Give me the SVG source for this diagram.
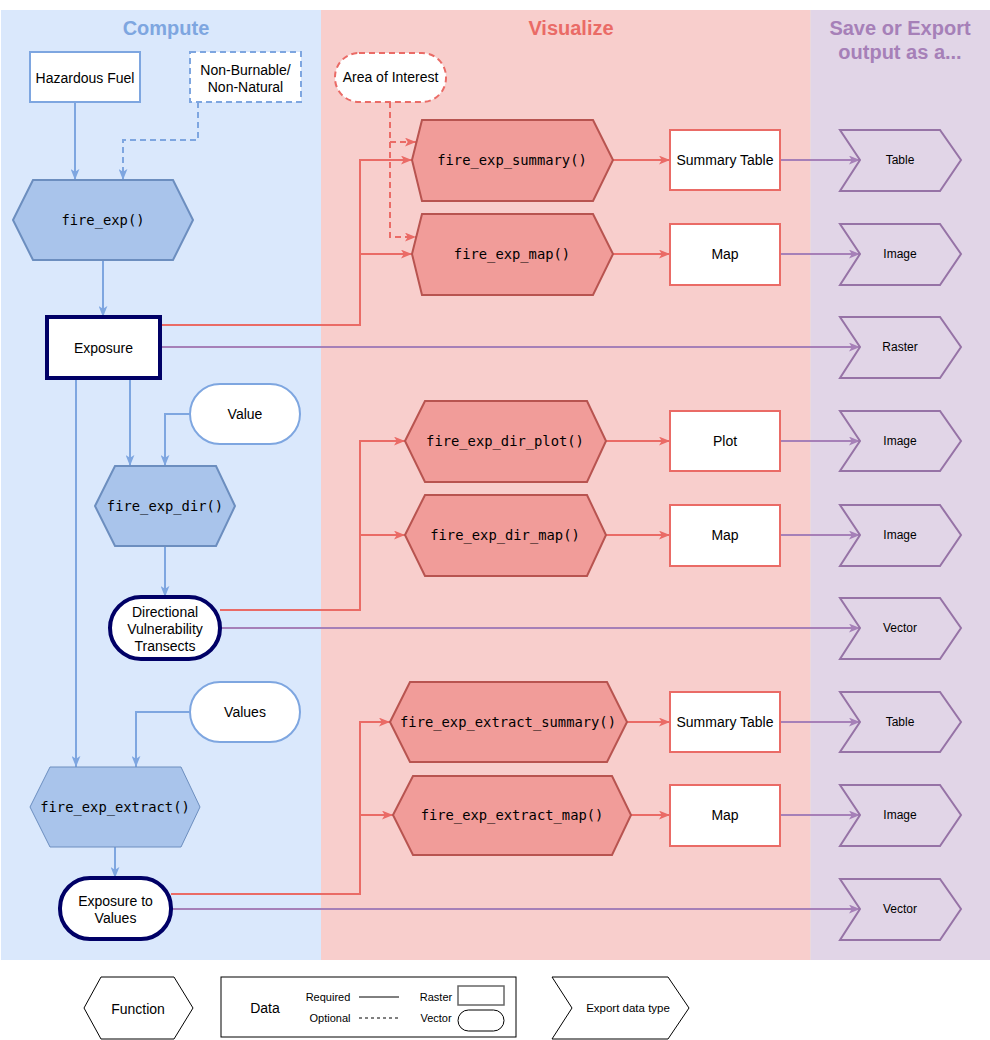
<svg xmlns="http://www.w3.org/2000/svg" width="990" height="1040" viewBox="0 0 990 1040">
<style>
.t{font-family:"Liberation Sans",Arial,sans-serif;font-size:14px;fill:#000;text-anchor:middle;dominant-baseline:central}
.ts{font-family:"Liberation Sans",Arial,sans-serif;font-size:12px;fill:#000;text-anchor:middle;dominant-baseline:central}
.tl{font-family:"Liberation Sans",Arial,sans-serif;font-size:11px;fill:#000;text-anchor:middle;dominant-baseline:central}
.m{font-family:"DejaVu Sans Mono","Liberation Mono",monospace;font-size:13.8px;fill:#000;text-anchor:middle;dominant-baseline:central}
.h{font-family:"Liberation Sans",Arial,sans-serif;font-size:20px;font-weight:bold;text-anchor:middle}
.bf{fill:#a9c4eb;stroke:#6c8ebf;stroke-width:2}
.rf{fill:#f19c99;stroke:#b85450;stroke-width:2}
.bd{fill:#fff;stroke:#7ea6e0;stroke-width:2}
.rd{fill:#fff;stroke:#ea6b66;stroke-width:2}
.nv{fill:#fff;stroke:#000066;stroke-width:4}
.pc{fill:#e1d5e7;stroke:#9673a6;stroke-width:2}
.lg{fill:#fff;stroke:#000;stroke-width:1}
.cb{fill:none;stroke:#7ea6e0;stroke-width:2;marker-end:url(#ab)}
.cr{fill:none;stroke:#ea6b66;stroke-width:2;marker-end:url(#ar)}
.cp{fill:none;stroke:#a680b8;stroke-width:2;marker-end:url(#ap)}
.dash{stroke-dasharray:6 4}
</style>
<defs>
<marker id="ab" viewBox="0 0 10 8" refX="10" refY="4" markerWidth="11" markerHeight="9" markerUnits="userSpaceOnUse" orient="auto"><path d="M0,0 L10,4 L0,8 L2.5,4 z" fill="#7ea6e0"/></marker>
<marker id="ar" viewBox="0 0 10 8" refX="10" refY="4" markerWidth="11" markerHeight="9" markerUnits="userSpaceOnUse" orient="auto"><path d="M0,0 L10,4 L0,8 L2.5,4 z" fill="#ea6b66"/></marker>
<marker id="ap" viewBox="0 0 10 8" refX="10" refY="4" markerWidth="11" markerHeight="9" markerUnits="userSpaceOnUse" orient="auto"><path d="M0,0 L10,4 L0,8 L2.5,4 z" fill="#a680b8"/></marker>
</defs>
<rect width="990" height="1040" fill="#fff"/>
<g id="panels">
<rect x="1" y="10" width="320" height="950" fill="#dae8fc"/>
<rect x="321" y="10" width="489" height="950" fill="#f8cecc"/>
<rect x="810" y="10" width="180" height="950" fill="#e1d5e7"/>
<line x1="810.5" y1="10" x2="810.5" y2="960" stroke="#ead9dd" stroke-width="1"/>
<text class="h" x="166" y="35" fill="#7ea6e0">Compute</text>
<text class="h" x="571" y="35" fill="#ea6b66">Visualize</text>
<text class="h" x="900" y="35" fill="#a680b8">Save or Export</text>
<text class="h" x="900" y="59" fill="#a680b8">output as a...</text>
</g>
<g id="connectors">
<path class="cb" d="M75,102 V180"/>
<path class="cb dash" d="M198,102 V140 H123 V180"/>
<path class="cb" d="M103,260 V317"/>
<path class="cb" d="M130,378 V466"/>
<path class="cb" d="M190,414 H165 V466"/>
<path class="cb" d="M165,546 V597"/>
<path class="cb" d="M76,378 V767"/>
<path class="cb" d="M190,712 H136 V767"/>
<path class="cb" d="M115,847 V878"/>
<path class="cr" d="M160,325 H360 V160 H412"/>
<path class="cr" d="M160,325 H360 V254 H412"/>
<path class="cr dash" d="M390,102 V142 H416"/>
<path class="cr dash" d="M390,102 V237 H416"/>
<path class="cr" d="M613,160 H670"/>
<path class="cr" d="M613,254 H670"/>
<path class="cr" d="M220,610 H360 V441 H405"/>
<path class="cr" d="M220,610 H360 V535 H405"/>
<path class="cr" d="M606,441 H670"/>
<path class="cr" d="M606,535 H670"/>
<path class="cr" d="M171,894 H360 V722 H390"/>
<path class="cr" d="M171,894 H360 V815 H393"/>
<path class="cr" d="M627,722 H670"/>
<path class="cr" d="M631,815 H670"/>
<path class="cp" d="M780,160 H860"/>
<path class="cp" d="M780,254 H860"/>
<path class="cp" d="M160,347 H860"/>
<path class="cp" d="M780,441 H860"/>
<path class="cp" d="M780,535 H860"/>
<path class="cp" d="M220,628 H860"/>
<path class="cp" d="M780,722 H860"/>
<path class="cp" d="M780,815 H860"/>
<path class="cp" d="M171,909 H860"/>
</g>
<g id="hazardous-fuel"><rect class="bd" x="30" y="52" width="110" height="50"/><text class="t" x="85" y="78">Hazardous Fuel</text></g>
<g id="non-burnable"><rect class="bd dash" x="190" y="52" width="111" height="50"/><text class="t" x="245.5" y="70">Non-Burnable/</text><text class="t" x="245.5" y="87">Non-Natural</text></g>
<g id="fire-exp"><polygon class="bf" points="13,220 33,180 173,180 193,220 173,260 33,260"/><text class="m" x="103" y="220">fire_exp()</text></g>
<g id="exposure"><rect class="nv" x="47" y="317" width="113" height="61"/><text class="t" x="103.5" y="348">Exposure</text></g>
<g id="value"><rect class="bd" x="190" y="384" width="110" height="60" rx="30"/><text class="t" x="245" y="414">Value</text></g>
<g id="fire-exp-dir"><polygon class="bf" points="95,506 115,466 216,466 235,506 216,546 115,546"/><text class="m" x="165" y="506">fire_exp_dir()</text></g>
<g id="directional"><rect class="nv" x="110" y="597" width="110" height="62" rx="31"/><text class="t" x="165" y="612">Directional</text><text class="t" x="165" y="629">Vulnerability</text><text class="t" x="165" y="646">Transects</text></g>
<g id="values"><rect class="bd" x="190" y="682" width="110" height="60" rx="30"/><text class="t" x="245" y="712">Values</text></g>
<g id="fire-exp-extract"><polygon class="bf" style="stroke-width:1" points="30,807 50,767 181,767 200,807 181,847 50,847"/><text class="m" x="115" y="807">fire_exp_extract()</text></g>
<g id="exposure-to-values"><rect class="nv" x="60" y="878" width="111" height="61" rx="30"/><text class="t" x="115.5" y="901">Exposure to</text><text class="t" x="115.5" y="918">Values</text></g>
<g id="area-of-interest"><rect class="rd dash" x="335" y="53" width="111" height="49" rx="24"/><text class="t" x="390.5" y="77">Area of Interest</text></g>
<g id="fire-exp-summary"><polygon class="rf" points="412,160 422,120 593,120 613,160 593,201 422,201"/><text class="m" x="512" y="160">fire_exp_summary()</text></g>
<g id="fire-exp-map"><polygon class="rf" points="412,254 422,214 593,214 613,254 593,295 422,295"/><text class="m" x="512" y="254">fire_exp_map()</text></g>
<g id="fire-exp-dir-plot"><polygon class="rf" points="405,441 425,401 587,401 606,441 587,482 425,482"/><text class="m" x="505" y="441">fire_exp_dir_plot()</text></g>
<g id="fire-exp-dir-map"><polygon class="rf" points="405,535 425,495 587,495 606,535 587,576 425,576"/><text class="m" x="505" y="535">fire_exp_dir_map()</text></g>
<g id="fire-exp-extract-summary"><polygon class="rf" points="390,722 410,682 607,682 627,722 607,762 410,762"/><text class="m" x="508" y="722">fire_exp_extract_summary()</text></g>
<g id="fire-exp-extract-map"><polygon class="rf" points="393,815 413,776 612,776 631,815 612,855 413,855"/><text class="m" x="512" y="815">fire_exp_extract_map()</text></g>
<g id="summary-table-1"><rect class="rd" x="670" y="130" width="110" height="60"/><text class="t" x="725" y="160">Summary Table</text></g>
<g id="map-1"><rect class="rd" x="670" y="224" width="110" height="61"/><text class="t" x="725" y="254">Map</text></g>
<g id="plot"><rect class="rd" x="670" y="411" width="110" height="60"/><text class="t" x="725" y="441">Plot</text></g>
<g id="map-2"><rect class="rd" x="670" y="505" width="110" height="61"/><text class="t" x="725" y="535">Map</text></g>
<g id="summary-table-2"><rect class="rd" x="670" y="692" width="110" height="60"/><text class="t" x="725" y="722">Summary Table</text></g>
<g id="map-3"><rect class="rd" x="670" y="785" width="110" height="61"/><text class="t" x="725" y="815">Map</text></g>
<g id="export-table-1"><polygon class="pc" points="840,130 940,130 961,160 940,191 840,191 860,160"/><text class="ts" x="900" y="160">Table</text></g>
<g id="export-image-1"><polygon class="pc" points="840,224 940,224 961,254 940,285 840,285 860,254"/><text class="ts" x="900" y="254">Image</text></g>
<g id="export-raster"><polygon class="pc" points="840,317 940,317 961,347 940,378 840,378 860,347"/><text class="ts" x="900" y="347">Raster</text></g>
<g id="export-image-2"><polygon class="pc" points="840,411 940,411 961,441 940,471 840,471 860,441"/><text class="ts" x="900" y="441">Image</text></g>
<g id="export-image-3"><polygon class="pc" points="840,505 940,505 961,535 940,566 840,566 860,535"/><text class="ts" x="900" y="535">Image</text></g>
<g id="export-vector-1"><polygon class="pc" points="840,598 940,598 961,628 940,659 840,659 860,628"/><text class="ts" x="900" y="628">Vector</text></g>
<g id="export-table-2"><polygon class="pc" points="840,692 940,692 961,722 940,752 840,752 860,722"/><text class="ts" x="900" y="722">Table</text></g>
<g id="export-image-4"><polygon class="pc" points="840,785 940,785 961,815 940,846 840,846 860,815"/><text class="ts" x="900" y="815">Image</text></g>
<g id="export-vector-2"><polygon class="pc" points="840,879 940,879 961,909 940,940 840,940 860,909"/><text class="ts" x="900" y="909">Vector</text></g>
<g id="legend-function"><polygon class="lg" points="84,1008 101,977 174,977 193,1008 174,1039 101,1039"/><text class="t" x="138" y="1009">Function</text></g>
<g id="legend-data">
<rect class="lg" x="221" y="977" width="295" height="60"/>
<text class="t" x="265" y="1008">Data</text>
<text class="tl" x="328" y="997">Required</text>
<line x1="359" y1="997" x2="399" y2="997" stroke="#000" stroke-width="1"/>
<text class="tl" x="330" y="1018">Optional</text>
<line x1="359" y1="1018" x2="399" y2="1018" stroke="#000" stroke-width="1" stroke-dasharray="3 3"/>
<text class="tl" x="436" y="997">Raster</text>
<rect x="458" y="986" width="46" height="19" fill="#fff" stroke="#666" stroke-width="1.5"/>
<text class="tl" x="436" y="1018">Vector</text>
<rect class="lg" x="458" y="1010" width="46" height="21" rx="10.5"/>
</g>
<g id="legend-export"><polygon class="lg" points="552,977 668,977 689,1008 668,1039 552,1039 572,1008"/><text class="ts" x="628" y="1008" style="font-size:11.5px">Export data type</text></g>
</svg>
